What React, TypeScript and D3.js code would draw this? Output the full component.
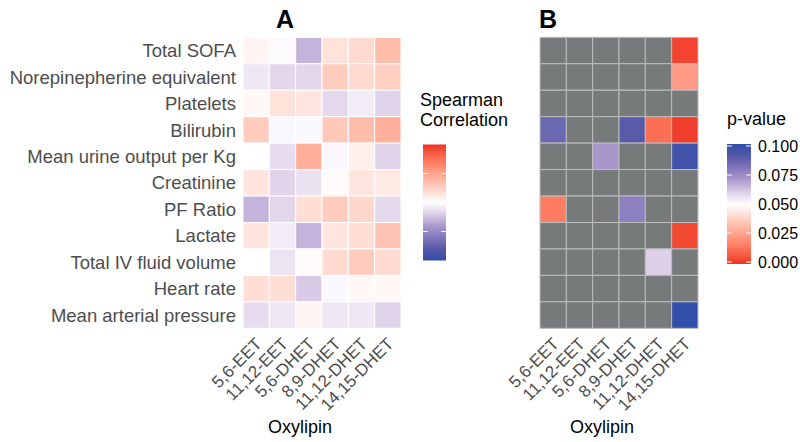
import React from "react";
import * as d3 from "d3";

const oxylipins = ["5,6-EET", "11,12-EET", "5,6-DHET", "8,9-DHET", "11,12-DHET", "14,15-DHET"];
const variables = [
  "Total SOFA",
  "Norepinepherine equivalent",
  "Platelets",
  "Bilirubin",
  "Mean urine output per Kg",
  "Creatinine",
  "PF Ratio",
  "Lactate",
  "Total IV fluid volume",
  "Heart rate",
  "Mean arterial pressure",
];

// Spearman correlation, one row per variable, columns follow oxylipins
const corrTotalSOFA = [0.03, -0.01, -0.15, 0.08, 0.1, 0.18];
const corrNorepi = [-0.05, -0.085, -0.085, 0.14, 0.1, 0.13];
const corrPlatelets = [0.02, 0.08, 0.07, -0.08, -0.04, -0.09];
const corrBilirubin = [0.14, -0.015, -0.015, 0.15, 0.18, 0.22];
const corrUrine = [0.0, -0.07, 0.22, -0.015, 0.04, -0.09];
const corrCreatinine = [0.07, -0.09, -0.06, 0.01, 0.07, 0.06];
const corrPF = [-0.15, -0.085, 0.09, 0.14, 0.11, -0.08];
const corrLactate = [0.07, -0.04, -0.15, 0.07, 0.09, 0.16];
const corrIV = [0.0, -0.055, 0.01, 0.1, 0.14, 0.1];
const corrHR = [0.09, 0.09, -0.11, -0.015, 0.02, 0.02];
const corrMAP = [-0.07, -0.05, 0.03, -0.05, -0.05, -0.09];
const corrRows = [corrTotalSOFA, corrNorepi, corrPlatelets, corrBilirubin, corrUrine, corrCreatinine, corrPF, corrLactate, corrIV, corrHR, corrMAP];

// p-values (null = not shown / NA)
const pTotalSOFA = [null, null, null, null, null, 0.003];
const pNorepi = [null, null, null, null, null, 0.023];
const pPlatelets = [null, null, null, null, null, null];
const pBilirubin = [0.085, null, null, 0.089, 0.012, 0.002];
const pUrine = [null, null, 0.071, null, null, 0.096];
const pCreatinine = [null, null, null, null, null, null];
const pPF = [0.015, null, null, 0.0775, null, null];
const pLactate = [null, null, null, null, null, 0.004];
const pIV = [null, null, null, null, 0.06, null];
const pHR = [null, null, null, null, null, null];
const pMAP = [null, null, null, null, null, 0.1];
const pRows = [pTotalSOFA, pNorepi, pPlatelets, pBilirubin, pUrine, pCreatinine, pPF, pLactate, pIV, pHR, pMAP];

const corrBreaks = [-0.25, 0, 0.25];
const pBreaks = [0, 0.025, 0.05, 0.075, 0.1];

const RED = "#ee3124";
// blue half of the diverging ramp: white -> purple-ish -> blue
const BLUE_RAMP = ["#ffffff", "#ddcfe8", "#ab9acd", "#8178bc", "#5458a8", "#2f4fa8"];
const NA_GREY = "#777a7a";
const FONT = "'Liberation Sans', Arial, Helvetica, sans-serif";

function makeRamp(lo: number, mid: number, hi: number, blueAtLow: boolean) {
  const n = BLUE_RAMP.length - 1;
  const blueDomain = BLUE_RAMP.map((_, i) =>
    blueAtLow ? mid + (lo - mid) * (i / n) : mid + (hi - mid) * (i / n)
  );
  const red = d3.scaleLinear<string>().domain([mid, blueAtLow ? hi : lo]).range(["#ffffff", RED]).interpolate(d3.interpolateLab);
  const blue = d3.scaleLinear<string>().domain(blueDomain).range(BLUE_RAMP).interpolate(d3.interpolateLab);
  return (v: number) => {
    const isBlue = blueAtLow ? v < mid : v > mid;
    return isBlue ? blue(v) : red(v);
  };
}

export default function App() {
  const top = 37.3;
  const bottom = 328.3;
  const xA = d3.scaleBand<string>().domain(oxylipins).range([243, 401]);
  const xB = d3.scaleBand<string>().domain(oxylipins).range([540, 698]);
  const y = d3.scaleBand<string>().domain(variables).range([top, bottom]);

  const corrColor = makeRamp(-0.5, 0, 0.5, true);
  const pColor = makeRamp(0, 0.05, 0.1, false);

  const corrBarY = d3.scaleLinear().domain([-0.5, 0.5]).range([260.5, 144.5]);
  const pBarY = d3.scaleLinear().domain([0, 0.1]).range([262, 146]);

  const gradStops = d3.range(0, 1.0001, 0.025);

  const xLabel = (xs: d3.ScaleBand<string>, key: string) =>
    oxylipins.map((o) => {
      const cx = (xs(o) as number) + xs.bandwidth() / 2;
      return (
        <text
          key={key + o}
          transform={`translate(${cx - 2},${bottom + 8}) rotate(-45)`}
          textAnchor="end"
          dy="0.72em"
          fontSize={17}
          fill="#4d4d4d"
          fontFamily={FONT}
        >
          {o}
        </text>
      );
    });

  return (
    <svg width={800} height={442} style={{ display: "block", position: "absolute", left: 0, top: 0 }}>
      <defs>
        <linearGradient id="corrGrad" x1="0" y1="1" x2="0" y2="0">
          {gradStops.map((t) => (
            <stop key={t} offset={t} stopColor={corrColor(-0.5 + t)} />
          ))}
        </linearGradient>
        <linearGradient id="pGrad" x1="0" y1="1" x2="0" y2="0">
          {gradStops.map((t) => (
            <stop key={t} offset={t} stopColor={pColor(t * 0.1)} />
          ))}
        </linearGradient>
      </defs>
      <rect width={800} height={442} fill="#ffffff" />

      {/* Titles */}
      <text x={285} y={28} fontSize={25} fontWeight="bold" textAnchor="middle" fontFamily={FONT} fill="#000">A</text>
      <text x={548} y={28} fontSize={25} fontWeight="bold" textAnchor="middle" fontFamily={FONT} fill="#000">B</text>

      {/* Panel A tiles */}
      {variables.map((v, i) =>
        oxylipins.map((o, j) => (
          <rect
            key={`a-${i}-${j}`}
            x={xA(o)}
            y={y(v)}
            width={xA.bandwidth()}
            height={y.bandwidth()}
            fill={corrColor(corrRows[i][j])}
            stroke="#ffffff"
            strokeWidth={1}
          />
        ))
      )}

      {/* Y labels */}
      {variables.map((v) => (
        <text
          key={`yl-${v}`}
          x={236}
          y={(y(v) as number) + y.bandwidth() / 2}
          dy="0.36em"
          textAnchor="end"
          fontSize={18.5}
          fill="#4d4d4d"
          fontFamily={FONT}
        >
          {v}
        </text>
      ))}

      {xLabel(xA, "xa")}
      <text x={300} y={433} fontSize={18} textAnchor="middle" fontFamily={FONT} fill="#000">Oxylipin</text>

      {/* Legend A */}
      <text x={420} y={106} fontSize={18} fontFamily={FONT} fill="#000">Spearman</text>
      <text x={420} y={126} fontSize={18} fontFamily={FONT} fill="#000">Correlation</text>
      <rect x={423} y={corrBarY(0.5)} width={23} height={corrBarY(-0.5) - corrBarY(0.5)} fill="url(#corrGrad)" />
      {corrBreaks.map((b) => (
        <g key={`cb-${b}`}>
          <line x1={423} x2={427.6} y1={corrBarY(b)} y2={corrBarY(b)} stroke="#ffffff" strokeWidth={1} />
          <line x1={441.4} x2={446} y1={corrBarY(b)} y2={corrBarY(b)} stroke="#ffffff" strokeWidth={1} />
        </g>
      ))}

      {/* Panel B tiles */}
      {variables.map((v, i) =>
        oxylipins.map((o, j) => {
          const p = pRows[i][j];
          return (
            <rect
              key={`b-${i}-${j}`}
              x={xB(o)}
              y={y(v)}
              width={xB.bandwidth()}
              height={y.bandwidth()}
              fill={p === null ? NA_GREY : pColor(p)}
              stroke="#bdbdbd"
              strokeWidth={1}
            />
          );
        })
      )}

      {xLabel(xB, "xb")}
      <text x={602} y={433} fontSize={18} textAnchor="middle" fontFamily={FONT} fill="#000">Oxylipin</text>

      {/* Legend B */}
      <text x={727} y={125} fontSize={18} fontFamily={FONT} fill="#000">p-value</text>
      <rect x={727} y={144} width={24} height={120} fill="url(#pGrad)" />
      {pBreaks.map((b) => (
        <g key={`pb-${b}`}>
          <line x1={727} x2={731.8} y1={pBarY(b)} y2={pBarY(b)} stroke="#ffffff" strokeWidth={1} />
          <line x1={746.2} x2={751} y1={pBarY(b)} y2={pBarY(b)} stroke="#ffffff" strokeWidth={1} />
          <text x={758} y={pBarY(b)} dy="0.35em" fontSize={16} fontFamily={FONT} fill="#000">
            {b.toFixed(3)}
          </text>
        </g>
      ))}
    </svg>
  );
}
